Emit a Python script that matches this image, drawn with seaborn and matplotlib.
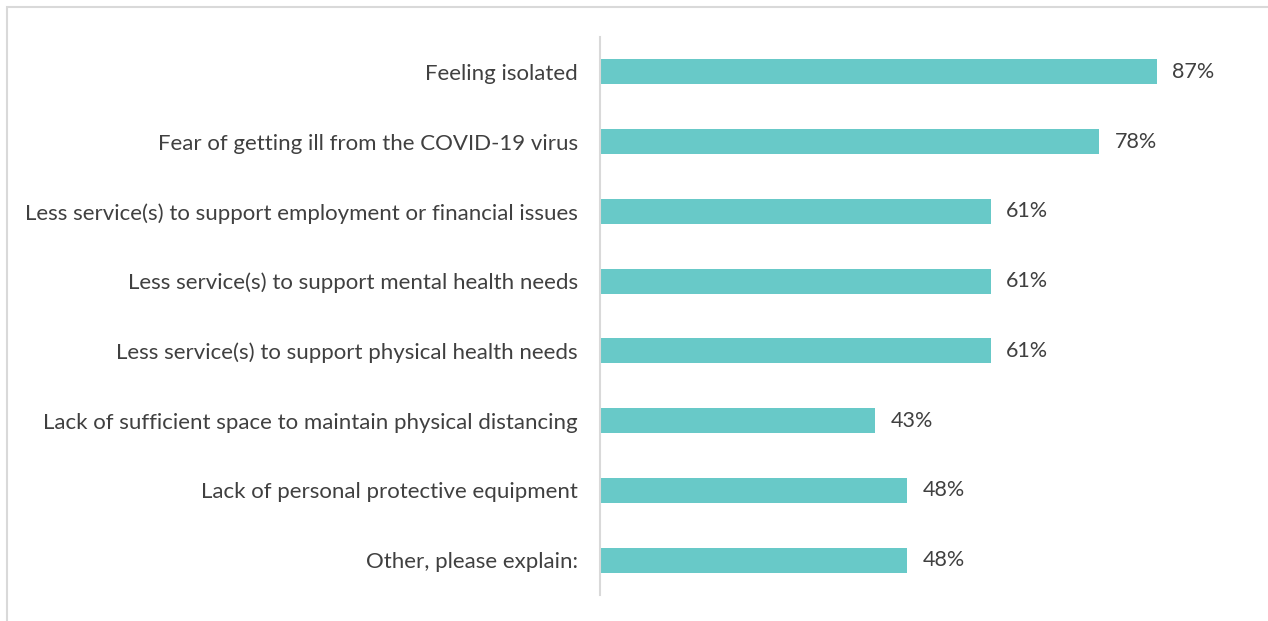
import matplotlib
matplotlib.use("Agg")
import matplotlib.pyplot as plt
import seaborn as sns
import pandas as pd
from matplotlib.patches import Rectangle

categories = [
    "Feeling isolated",
    "Fear of getting ill from the COVID-19 virus",
    "Less service(s) to support employment or financial issues",
    "Less service(s) to support mental health needs",
    "Less service(s) to support physical health needs",
    "Lack of sufficient space to maintain physical distancing",
    "Lack of personal protective equipment",
    "Other, please explain:",
]
values = [0.87, 0.78, 0.61, 0.61, 0.61, 0.43, 0.48, 0.48]
value_labels = ["87%", "78%", "61%", "61%", "61%", "43%", "48%", "48%"]

sns.set_theme(style="white")
plt.rcParams["font.family"] = ["Lato", "DejaVu Sans"]

df = pd.DataFrame({"cat": categories, "val": values})

fig = plt.figure(figsize=(12.68, 6.21), dpi=100)
ax = fig.add_axes([0.4732, 0.0419, 0.505, 0.8985])
sns.barplot(data=df, x="val", y="cat", color="#68C9C8", saturation=1, width=0.36,
            ax=ax, edgecolor="none")
ax.set_xlim(0, 1.0)
ax.set_ylim(7.5, -0.5)
ax.set_xlabel("")
ax.set_ylabel("")
ax.set_xticks([])
for s in ["top", "right", "bottom"]:
    ax.spines[s].set_visible(False)
ax.spines["left"].set_color("#D9D9D9")
ax.spines["left"].set_linewidth(1.5)
ax.tick_params(axis="y", length=0, pad=16, labelsize=16, labelcolor="#404040")

for i, (v, lab) in enumerate(zip(values, value_labels)):
    ax.annotate(lab, xy=(v, i), xytext=(11, 0), textcoords="offset points",
                va="center", ha="left", fontsize=15.5, color="#404040")

fig.patches.append(Rectangle((7 / 1268, -0.1), 1.2, 1 - 7 / 621 + 0.1,
                             transform=fig.transFigure, fill=False,
                             edgecolor="#D9D9D9", linewidth=1.5))

fig.savefig("out.png", dpi=100)
